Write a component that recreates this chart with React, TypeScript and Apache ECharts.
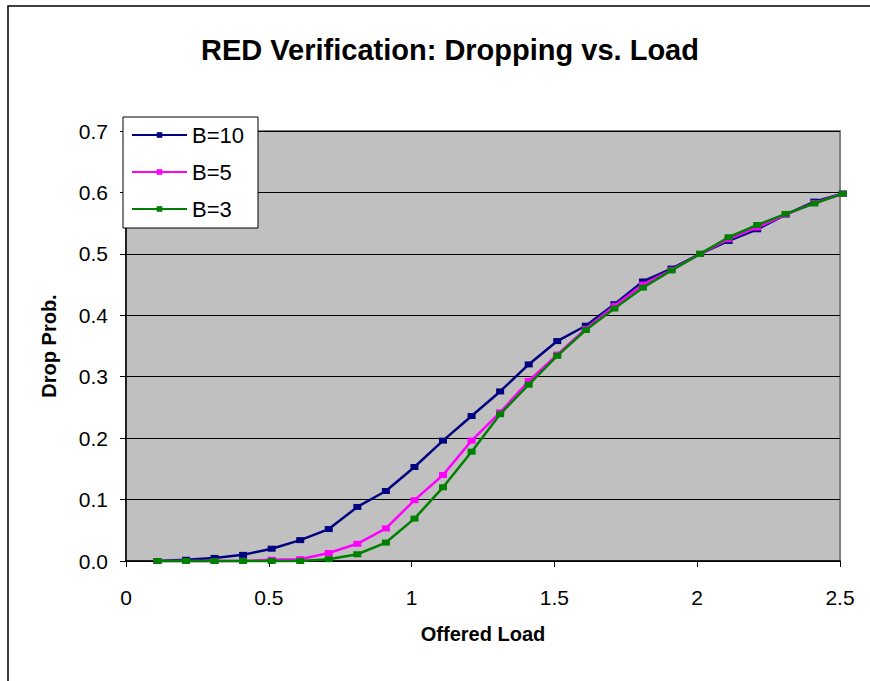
import React, { useEffect, useRef } from "react";
import * as echarts from "echarts";

const offeredLoad = [0.11, 0.21, 0.31, 0.41, 0.51, 0.61, 0.71, 0.81, 0.91, 1.01, 1.11, 1.21, 1.31, 1.41, 1.51, 1.61, 1.71, 1.81, 1.91, 2.01, 2.11, 2.21, 2.31, 2.41, 2.51];
const dropB10 = [0.000, 0.002, 0.005, 0.010, 0.020, 0.034, 0.052, 0.088, 0.114, 0.153, 0.196, 0.236, 0.276, 0.320, 0.358, 0.383, 0.418, 0.455, 0.476, 0.500, 0.521, 0.540, 0.564, 0.585, 0.598];
const dropB5 = [0.000, 0.000, 0.000, 0.000, 0.002, 0.003, 0.013, 0.028, 0.053, 0.099, 0.140, 0.196, 0.242, 0.293, 0.336, 0.378, 0.415, 0.450, 0.474, 0.500, 0.524, 0.543, 0.564, 0.583, 0.598];
const dropB3 = [0.000, 0.000, 0.000, 0.000, 0.000, 0.000, 0.003, 0.011, 0.030, 0.069, 0.120, 0.178, 0.239, 0.287, 0.334, 0.376, 0.411, 0.445, 0.473, 0.500, 0.527, 0.547, 0.565, 0.582, 0.598];
const seriesNames = ["B=10", "B=5", "B=3"];
const seriesColors = ["#000080", "#FF00FF", "#008000"];

const FONT = "'Liberation Sans', Arial, sans-serif";

export default function App() {
  const ref = useRef<HTMLDivElement>(null);
  useEffect(() => {
    if (!ref.current) return;
    const chart = echarts.init(ref.current, null, { renderer: "svg" });
    const datasets = [dropB10, dropB5, dropB3];
    chart.setOption({
      animation: false,
      backgroundColor: "#ffffff",
      title: {
        text: "RED Verification: Dropping vs. Load",
        left: 445,
        top: 30,
        textAlign: "center",
        textStyle: { fontFamily: FONT, fontSize: 29, fontWeight: "bold", color: "#000" },
      },
      graphic: [
        {
          type: "rect",
          shape: { x: 8, y: 6, width: 900, height: 700 },
          style: { fill: "none", stroke: "#000", lineWidth: 1.5 },
          silent: true,
          z: 100,
        },
      ],
      legend: {
        orient: "vertical",
        left: 123,
        top: 117,
        backgroundColor: "#ffffff",
        borderColor: "#000",
        borderWidth: 1,
        padding: [7, 14, 8, 8],
        itemGap: 15,
        itemWidth: 55,
        itemHeight: 7,
        textStyle: { fontFamily: FONT, fontSize: 22, lineHeight: 22, color: "#000" },
        data: seriesNames,
        z: 10,
      },
      grid: {
        left: 126,
        top: 131,
        right: 30,
        bottom: 120,
        show: true,
        backgroundColor: "#C0C0C0",
        borderColor: "#808080",
        borderWidth: 2,
      },
      xAxis: {
        type: "value",
        min: 0,
        max: 2.5,
        interval: 0.5,
        name: "Offered Load",
        nameLocation: "middle",
        nameGap: 63,
        nameTextStyle: { fontFamily: FONT, fontSize: 20, fontWeight: "bold", color: "#000" },
        axisLine: { show: true, lineStyle: { color: "#000", width: 1.5 } },
        axisTick: { show: true, length: 6, lineStyle: { color: "#000" } },
        axisLabel: { fontFamily: FONT, fontSize: 21, color: "#000", margin: 26 },
        splitLine: { show: false },
      },
      yAxis: {
        type: "value",
        min: 0,
        max: 0.7,
        interval: 0.1,
        name: "Drop Prob.",
        nameLocation: "middle",
        nameGap: 67,
        nameTextStyle: { fontFamily: FONT, fontSize: 20, fontWeight: "bold", color: "#000" },
        axisLine: { show: true, lineStyle: { color: "#000", width: 1.5 } },
        axisTick: { show: true, length: 6, lineStyle: { color: "#000" } },
        axisLabel: {
          fontFamily: FONT,
          fontSize: 21,
          color: "#000",
          margin: 18,
          formatter: (v: number) => v.toFixed(1),
        },
        splitLine: { show: true, lineStyle: { color: "#000", width: 1 } },
      },
      series: seriesNames.map((name, i) => ({
        name,
        type: "line",
        data: offeredLoad.map((x, k) => [x, datasets[i][k]]),
        symbol: "rect",
        symbolSize: [8, 6],
        showSymbol: true,
        clip: false,
        smooth: false,
        itemStyle: { color: seriesColors[i] },
        lineStyle: { color: seriesColors[i], width: 2.5 },
        z: 2 + i,
      })),
    });
    return () => chart.dispose();
  }, []);
  return (
    <div
      ref={ref}
      style={{ position: "absolute", left: 0, top: 0, width: 870, height: 681 }}
    />
  );
}
